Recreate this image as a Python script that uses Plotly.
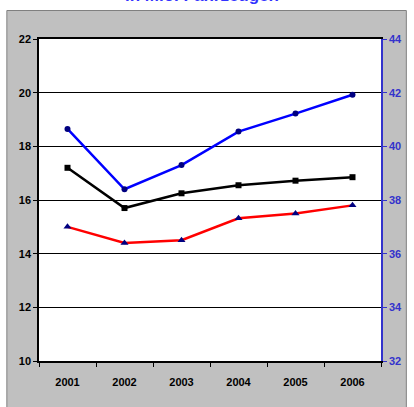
import plotly.graph_objects as go

years = ["2001", "2002", "2003", "2004", "2005", "2006"]
black_vals = [17.2, 15.7, 16.25, 16.55, 16.72, 16.85]
red_vals = [15.0, 14.4, 14.5, 15.32, 15.5, 15.8]
blue_vals = [40.65, 38.4, 39.3, 40.55, 41.22, 41.92]
left_ticks = [10, 12, 14, 16, 18, 20, 22]
right_ticks = [32, 34, 36, 38, 40, 42, 44]
title_text = "in Mio. Fahrzeugen"

W, H = 414, 407
L, R, T, B = 39, 24, 39, 46
pw, ph = W - L - R, H - T - B

def px_x(x):
    return (x - L) / pw

def px_y(y):
    return (H - B - y) / ph

fig = go.Figure()
fig.add_trace(go.Scatter(x=years, y=black_vals, mode="lines+markers",
                         line=dict(color="#000000", width=2.5),
                         marker=dict(symbol="square", size=6, color="#000000"),
                         yaxis="y"))
fig.add_trace(go.Scatter(x=years, y=red_vals, mode="lines+markers",
                         line=dict(color="#FF0000", width=2.5),
                         marker=dict(symbol="triangle-up", size=7, color="#000080"),
                         yaxis="y"))
fig.add_trace(go.Scatter(x=years, y=blue_vals, mode="lines+markers",
                         line=dict(color="#0000FF", width=2.5),
                         marker=dict(symbol="circle", size=6, color="#000080"),
                         yaxis="y2"))

font_tick = dict(family="Liberation Sans, Arial, sans-serif", size=11, color="#000000")

fig.update_layout(
    width=W, height=H,
    margin=dict(l=L, r=R, t=T, b=B, pad=0),
    paper_bgcolor="#FFFFFF",
    plot_bgcolor="#FFFFFF",
    showlegend=False,
    xaxis=dict(type="category", range=[-0.5, 5.5], showgrid=False,
               showline=True, linecolor="#000000", linewidth=2, mirror=True,
               ticks="outside", tickson="boundaries", ticklen=4, tickcolor="#000000",
               tickfont=dict(family="Liberation Sans, Arial, sans-serif", size=11,
                             color="#000000", weight="bold"),
               ticklabelstandoff=10),
    yaxis=dict(range=[10, 22], tickvals=left_ticks, showgrid=True,
               gridcolor="#000000", gridwidth=1,
               showline=True, linecolor="#000000", linewidth=1.5,
               ticks="outside", ticklen=4, tickcolor="#000000",
               tickfont=dict(family="Liberation Sans, Arial, sans-serif", size=11,
                             color="#000000", weight="bold"),
               zeroline=False),
    yaxis2=dict(range=[32, 44], tickvals=right_ticks, overlaying="y", side="right",
                showgrid=False, showline=True, linecolor="#3333CC", linewidth=1.5,
                ticks="outside", ticklen=4, tickcolor="#3333CC",
                tickfont=dict(family="Liberation Sans, Arial, sans-serif", size=11,
                              color="#3333CC", weight="bold"),
                zeroline=False),
    shapes=[
        dict(type="rect", xref="paper", yref="paper", layer="below",
             x0=px_x(6), x1=px_x(416), y0=px_y(409), y1=px_y(10.5),
             fillcolor="#C0C0C0", line=dict(color="#808080", width=1)),
        dict(type="rect", xref="paper", yref="paper", layer="below",
             x0=0, x1=1, y0=0, y1=1, fillcolor="#FFFFFF", line=dict(width=0)),
    ],
    annotations=[
        dict(text=title_text, xref="paper", yref="paper", x=px_x(206), y=px_y(-4),
             xanchor="center", yanchor="middle", showarrow=False,
             font=dict(family="Liberation Sans, Arial, sans-serif", size=17,
                       color="#3333FF", weight="bold")),
    ],
)

fig.write_html("out.html")
